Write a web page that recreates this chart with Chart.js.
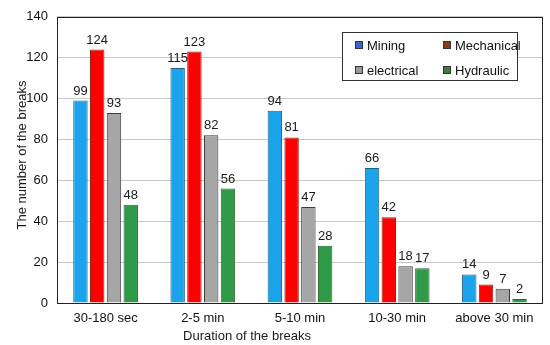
<!DOCTYPE html>
<html>
<head>
<meta charset="utf-8">
<script src="https://cdn.jsdelivr.net/npm/chart.js@4/dist/chart.umd.min.js"></script>
<style>
  html, body { margin: 0; padding: 0; background: #fff; }
  #wrap { position: relative; width: 550px; height: 345px; font-family: "Liberation Sans", Arial, sans-serif; }
  #legend { position: absolute; left: 342px; top: 32px; width: 176px; height: 49px; border: 1px solid #333; background: #fff; box-sizing: border-box; font-size: 13px; color: #111; }
  .li { position: absolute; display: flex; align-items: center; }
  .mk { width: 6px; height: 6px; border: 1px solid #333; margin-right: 4px; }
</style>
</head>
<body>
<div id="wrap">
  <canvas id="c" width="550" height="345"></canvas>
  <div id="legend"></div>
</div>
<script>
const categories = ["30-180 sec", "2-5 min", "5-10 min", "10-30 min", "above 30 min"];
const mining = [99, 115, 94, 66, 14];
const mechanical = [124, 123, 81, 42, 9];
const electrical = [93, 82, 47, 18, 7];
const hydraulic = [48, 56, 28, 17, 2];
const seriesNames = ["Mining", "Mechanical", "electrical", "Hydraulic"];
const yTicks = [0, 20, 40, 60, 80, 100, 120, 140];

const fills = ["#1ba4ec", "#ff0000", "#a6a6a6", "#2f9a48"];
const borders = ["#1f5f8a", "#8b2a10", "#3a3a3a", "#2f6030"];
const markers = ["#3f62d0", "#8a3a12", "#9a9a9a", "#3f7a3f"];
const seriesData = [mining, mechanical, electrical, hydraulic];

const datasets = seriesNames.map((n, i) => ({
  label: n,
  data: seriesData[i],
  backgroundColor: fills[i],
  borderColor: borders[i],
  borderWidth: 1,
  categoryPercentage: 0.69,
  barPercentage: 0.86
}));

const FONT = "Liberation Sans";

const extra = {
  id: 'extra',
  afterDatasetsDraw(chart) {
    const ctx = chart.ctx;
    ctx.save();
    ctx.font = "13px '" + FONT + "'";
    ctx.fillStyle = "#1a1a1a";
    ctx.textAlign = "center";
    ctx.textBaseline = "bottom";
    chart.data.datasets.forEach((ds, di) => {
      const meta = chart.getDatasetMeta(di);
      meta.data.forEach((bar, i) => {
        ctx.fillText(String(ds.data[i]), bar.x, bar.y - 3);
      });
    });
    const a = chart.chartArea;
    ctx.strokeStyle = "#222";
    ctx.lineWidth = 1;
    ctx.strokeRect(Math.round(a.left) + 0.5, Math.round(a.top) + 0.5, Math.round(a.right - a.left) - 1, Math.round(a.bottom - a.top));
    ctx.font = "13px '" + FONT + "'";
    ctx.textBaseline = "middle";
    ctx.fillText("Duration of the breaks", 247, 336);
    ctx.save();
    ctx.translate(22, 155);
    ctx.rotate(-Math.PI / 2);
    ctx.fillText("The number of the breaks", 0, 0);
    ctx.restore();
    ctx.restore();
  }
};

new Chart(document.getElementById('c'), {
  type: 'bar',
  data: { labels: categories, datasets },
  options: {
    responsive: false,
    animation: false,
    layout: { padding: { left: 0, top: 7, right: 7, bottom: 0 } },
    plugins: { legend: { display: false }, tooltip: { enabled: false } },
    scales: {
      x: {
        grid: { display: false, drawTicks: false },
        border: { display: false },
        ticks: { color: "#111", font: { family: FONT, size: 13 }, padding: 8, maxRotation: 0 },
        afterFit(s) { s.height = 42; }
      },
      y: {
        min: 0, max: 140,
        afterBuildTicks(s) { s.ticks = yTicks.map(v => ({ value: v })); },
        grid: { color: "#c8c8c8", drawTicks: false },
        border: { display: false },
        ticks: { color: "#111", font: { family: FONT, size: 13 }, padding: 9 },
        afterFit(s) { s.width = 57; }
      }
    }
  },
  plugins: [extra]
});

const lg = document.getElementById('legend');
const pos = [[12, 12], [100, 12], [12, 37], [100, 37]];
seriesNames.forEach((n, i) => {
  const d = document.createElement('div');
  d.className = 'li';
  d.style.left = pos[i][0] + 'px';
  d.style.top = (pos[i][1] - 8) + 'px';
  d.style.height = '16px';
  const m = document.createElement('span');
  m.className = 'mk';
  m.style.background = markers[i];
  const t = document.createElement('span');
  t.textContent = n;
  d.appendChild(m); d.appendChild(t);
  lg.appendChild(d);
});
</script>
</body>
</html>
